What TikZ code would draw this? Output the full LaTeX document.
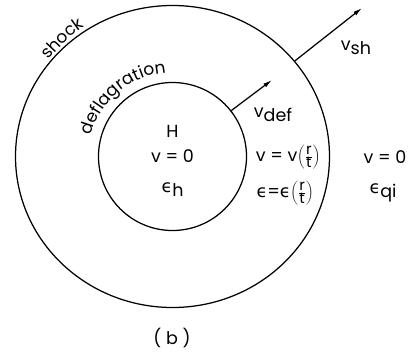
\documentclass[tikz,border=0pt]{standalone}
\usepackage{fontspec}
\setmainfont{Poppins}
\newfontfamily\grk{DejaVu Sans}
\usetikzlibrary{arrows.meta,positioning,shapes,decorations.text}

\newcommand{\eps}{{\grk ϵ}}
\newcommand{\frc}[1]{\mbox{\fontsize{15}{15}\selectfont #1}}
\newcommand{\rt}{$\left(\frac{\frc{r}}{\frc{t}}\right)$}
\newcommand{\low}[1]{\raisebox{-.45ex}{#1}}

\begin{document}
\begin{tikzpicture}[x=1pt,y=1pt,
  lbl/.style={font=\fontsize{17.5}{20}\selectfont},
  front/.style={draw,line width=1.25pt,inner sep=0pt},
  vel/.style={-{Latex[length=9pt,width=4.5pt]},line width=1.25pt}]
\useasboundingbox (-172.5,-194.5) rectangle (241.5,156.5);
\node[front,ellipse,minimum width=314pt,minimum height=302pt] (shk) at (0,0) {};
\node[front,circle,minimum size=148pt] (dfl) at (0,0) {};
\coordinate (tipdef) at (99.5,76.5);
\coordinate (tipsh) at (189.5,148.5);
\draw[vel] (dfl.38) -- (tipdef);
\draw[vel] (shk.38) -- (tipsh);
\path[decorate,decoration={text along path,text align=center,
  text={|\fontsize{17}{20}\selectfont|deflagration}}]
  (168:84) arc[start angle=168,end angle=92,radius=84];
\path[decorate,decoration={text along path,text align=center,
  text={|\fontsize{17}{20}\selectfont|shock}}]
  (150:157) arc[start angle=150,end angle=116,radius=157];
\node[lbl] (h) at (0,25) {H};
\node[lbl] (vin) at (0,0) {v = 0};
\node[lbl] (eh) at (0,-33) {\eps\low{h}};
\node[lbl] (vdef) at (100.5,41.5) {v\low{def}};
\node[lbl] (vmid) at (115.5,-0.5) {v = v\rt};
\node[lbl] (emid) at (112.5,-36.5) {\eps=\eps\rt};
\node[lbl] (vout) at (212.5,-0.5) {v = 0};
\node[lbl] (eqi) at (210.5,-36.5) {\eps\low{qi}};
\node[lbl] (vsh) at (183.5,108.5) {v\low{sh}};
\node[lbl] (cap) at (-0.5,-181.5) {( b )};
\end{tikzpicture}
\end{document}
